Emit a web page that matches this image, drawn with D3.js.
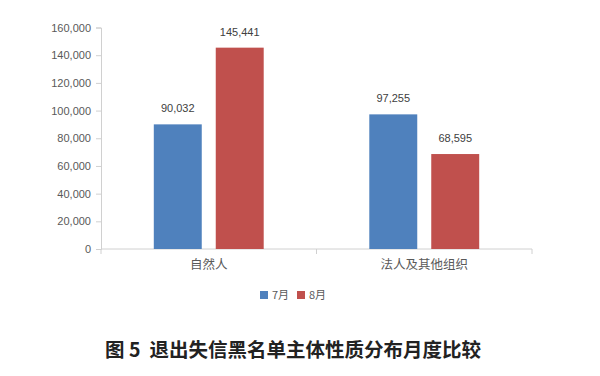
<!DOCTYPE html>
<meta charset="utf-8">
<script src="https://d3js.org/d3.v7.min.js"></script>
<style>
  body { margin: 0; background: #fff; }
  text { font-family: "Noto Sans CJK SC", "Liberation Sans", sans-serif; }
</style>
<body>
<div id="chart"></div>
<script>
// data
var categories = ["自然人", "法人及其他组织"];
var series = ["7月", "8月"];
var july = [90032, 97255];
var august = [145441, 68595];
var yTicks = [0, 20000, 40000, 60000, 80000, 100000, 120000, 140000, 160000];
var colors = ["#4f81bd", "#c0504d"];
var title = "图 5  退出失信黑名单主体性质分布月度比较";

var width = 600, height = 376;
var margin = {top: 27.5, right: 68, bottom: 127, left: 101};

var svg = d3.select("#chart").append("svg")
  .attr("width", width)
  .attr("height", height);

var y = d3.scaleLinear()
  .domain([0, 160000])
  .range([height - margin.bottom, margin.top]);

var x0 = d3.scaleBand()
  .domain(categories)
  .range([margin.left, width - margin.right])
  .paddingInner(0.49)
  .paddingOuter(0.245);

var x1 = d3.scaleBand()
  .domain(series)
  .range([0, x0.bandwidth()])
  .paddingInner(0.226);

var rows = categories.map(function(c, i) {
  return {cat: c, vals: [july[i], august[i]]};
});

// y axis
var yAxis = svg.append("g")
  .attr("transform", "translate(" + margin.left + ",0)")
  .call(d3.axisLeft(y).tickValues(yTicks).tickFormat(d3.format(",")).tickSize(5).tickPadding(5));
yAxis.select(".domain").attr("stroke", "#d0d0d0");
yAxis.selectAll(".tick line").attr("stroke", "#d0d0d0");
yAxis.selectAll(".tick text")
  .attr("fill", "#595959")
  .style("font-family", "'Liberation Sans', Arial, sans-serif")
  .style("font-size", "11px");

// x axis, ticks between the groups
var xEdges = [margin.left, margin.left + (width - margin.right - margin.left) / 2, width - margin.right];
svg.append("line")
  .attr("x1", margin.left).attr("x2", width - margin.right)
  .attr("y1", y(0)).attr("y2", y(0))
  .attr("stroke", "#d0d0d0");
svg.selectAll(".xtick").data(xEdges).enter().append("line")
  .attr("x1", d => d).attr("x2", d => d)
  .attr("y1", y(0)).attr("y2", y(0) + 5)
  .attr("stroke", "#d0d0d0");

svg.selectAll(".xlabel").data(categories).enter().append("text")
  .attr("x", d => x0(d) + x0.bandwidth() / 2)
  .attr("y", y(0) + 20)
  .attr("text-anchor", "middle")
  .attr("fill", "#595959")
  .style("font-size", "12.5px")
  .text(d => d);

// bars
var groups = svg.selectAll(".grp").data(rows).enter().append("g")
  .attr("transform", d => "translate(" + x0(d.cat) + ",0)");

groups.selectAll("rect").data(d => d.vals).enter().append("rect")
  .attr("x", (d, i) => x1(series[i]))
  .attr("width", x1.bandwidth())
  .attr("y", d => y(d))
  .attr("height", d => y(0) - y(d))
  .attr("fill", (d, i) => colors[i]);

groups.selectAll(".val").data(d => d.vals).enter().append("text")
  .attr("x", (d, i) => x1(series[i]) + x1.bandwidth() / 2)
  .attr("y", d => y(d) - 12)
  .attr("text-anchor", "middle")
  .attr("fill", "#404040")
  .style("font-family", "'Liberation Sans', Arial, sans-serif")
  .style("font-size", "11px")
  .text(d => d3.format(",")(d));

// legend
var legend = svg.append("g").attr("transform", "translate(260,295)");
var items = legend.selectAll("g").data(series).enter().append("g")
  .attr("transform", (d, i) => "translate(" + (i * 37) + ",0)");
items.append("rect")
  .attr("x", 0).attr("y", -4)
  .attr("width", 8).attr("height", 8)
  .attr("fill", (d, i) => colors[i]);
items.append("text")
  .attr("x", 12).attr("y", 4)
  .attr("fill", "#595959")
  .style("font-size", "11px")
  .text(d => d);

// caption
svg.append("text")
  .attr("x", 293)
  .attr("y", 357)
  .attr("text-anchor", "middle")
  .attr("fill", "#222")
  .style("font-size", "19.5px")
  .style("font-weight", "bold")
  .style("white-space", "pre")
  .text(title);
</script>
</body>
